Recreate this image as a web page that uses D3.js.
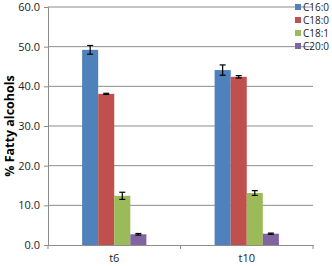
<script src='https://cdn.jsdelivr.net/npm/d3@7'></script>
<style>body{margin:0;background:#fff;}text{font-family:'Open Sans',Calibri,sans-serif;}</style>
<svg id='chart'></svg>
<script>
var groups=['t6','t10'],
    series=['C16:0','C18:0','C18:1','C20:0'],
    colors=['#4f81bd','#c0504d','#9bbb59','#8064a2'],
    means=[[49.2,44.1],[38.1,42.4],[12.4,13.1],[2.7,2.85]],
    errs=[[1.1,1.3],[0.15,0.3],[0.9,0.6],[0.2,0.15]],
    yTicks=[0,10,20,30,40,50,60];
var W=332,H=266,m={top:7,right:19,bottom:21,left:48};
var svg=d3.select('#chart').attr('width',W).attr('height',H);
var x=d3.scaleBand().domain(groups).range([m.left,W-m.right]),
    xi=d3.scaleBand().domain(series).range([0,x.bandwidth()*0.485]),
    y=d3.scaleLinear().domain([0,60]).range([H-m.bottom,m.top]);
var off=(x.bandwidth()-xi.range()[1])/2;
// gridlines
svg.append('g').selectAll('line').data(yTicks.slice(1)).enter().append('line')
   .attr('x1',m.left).attr('x2',W-m.right)
   .attr('y1',function(d){return y(d);}).attr('y2',function(d){return y(d);})
   .attr('stroke','#8c8c8c').attr('stroke-width',1);
var yAx=svg.append('g').attr('transform','translate('+m.left+',0)')
   .call(d3.axisLeft(y).tickValues(yTicks).tickFormat(d3.format('.1f')).tickSize(4).tickPadding(4));
yAx.select('.domain').attr('stroke','#8c8c8c');
yAx.selectAll('line').attr('stroke','#8c8c8c');
yAx.selectAll('text').attr('font-size',11).attr('fill','#222');
// bars
var data=[];
series.forEach(function(s,i){groups.forEach(function(g,j){
  data.push({g:g,s:s,v:means[i][j],e:errs[i][j],c:colors[i]});});});
svg.append('g').selectAll('rect').data(data).enter().append('rect')
   .attr('x',function(d){return x(d.g)+off+xi(d.s);})
   .attr('width',xi.bandwidth())
   .attr('y',function(d){return y(d.v);})
   .attr('height',function(d){return y(0)-y(d.v);})
   .attr('fill',function(d){return d.c;});
// error bars
var eb=svg.append('g').attr('stroke','#000').attr('stroke-width',1.2);
data.forEach(function(d){
  var cx=x(d.g)+off+xi(d.s)+xi.bandwidth()/2;
  eb.append('line').attr('x1',cx).attr('x2',cx).attr('y1',y(d.v+d.e)).attr('y2',y(d.v-d.e));
  [d.v+d.e,d.v-d.e].forEach(function(v){
    eb.append('line').attr('x1',cx-3).attr('x2',cx+3).attr('y1',y(v)).attr('y2',y(v));});
});
// x axis
var xAx=svg.append('g').attr('transform','translate(0,'+y(0)+')')
   .call(d3.axisBottom(x).tickSize(0).tickPadding(9));
xAx.select('.domain').attr('stroke','#8c8c8c');
xAx.selectAll('text').attr('font-size',11).attr('fill','#222');
var bounds=[m.left,W-m.right].concat(groups.slice(1).map(function(g){return x(g);}));
svg.append('g').selectAll('line').data(bounds).enter().append('line')
   .attr('x1',function(d){return d;}).attr('x2',function(d){return d;})
   .attr('y1',y(0)).attr('y2',y(0)+4).attr('stroke','#8c8c8c');
// y title
svg.append('text').attr('transform','translate(14,'+(y(30))+') rotate(-90)')
   .attr('text-anchor','middle').attr('font-size',12.5).attr('font-weight','bold')
   .text('% Fatty alcohols');
// legend
var lg=svg.append('g').attr('transform','translate(295,7)');
series.forEach(function(s,i){
  var r=lg.append('g').attr('transform','translate(0,'+(i*13)+')');
  r.append('rect').attr('x',0).attr('y',-3).attr('width',6).attr('height',6).attr('fill',colors[i]);
  r.append('text').attr('x',8).attr('y',3.5).attr('font-size',10)
   .attr('font-family','Liberation Sans, Arial, sans-serif').attr('fill','#222').text(s);
});
</script>
